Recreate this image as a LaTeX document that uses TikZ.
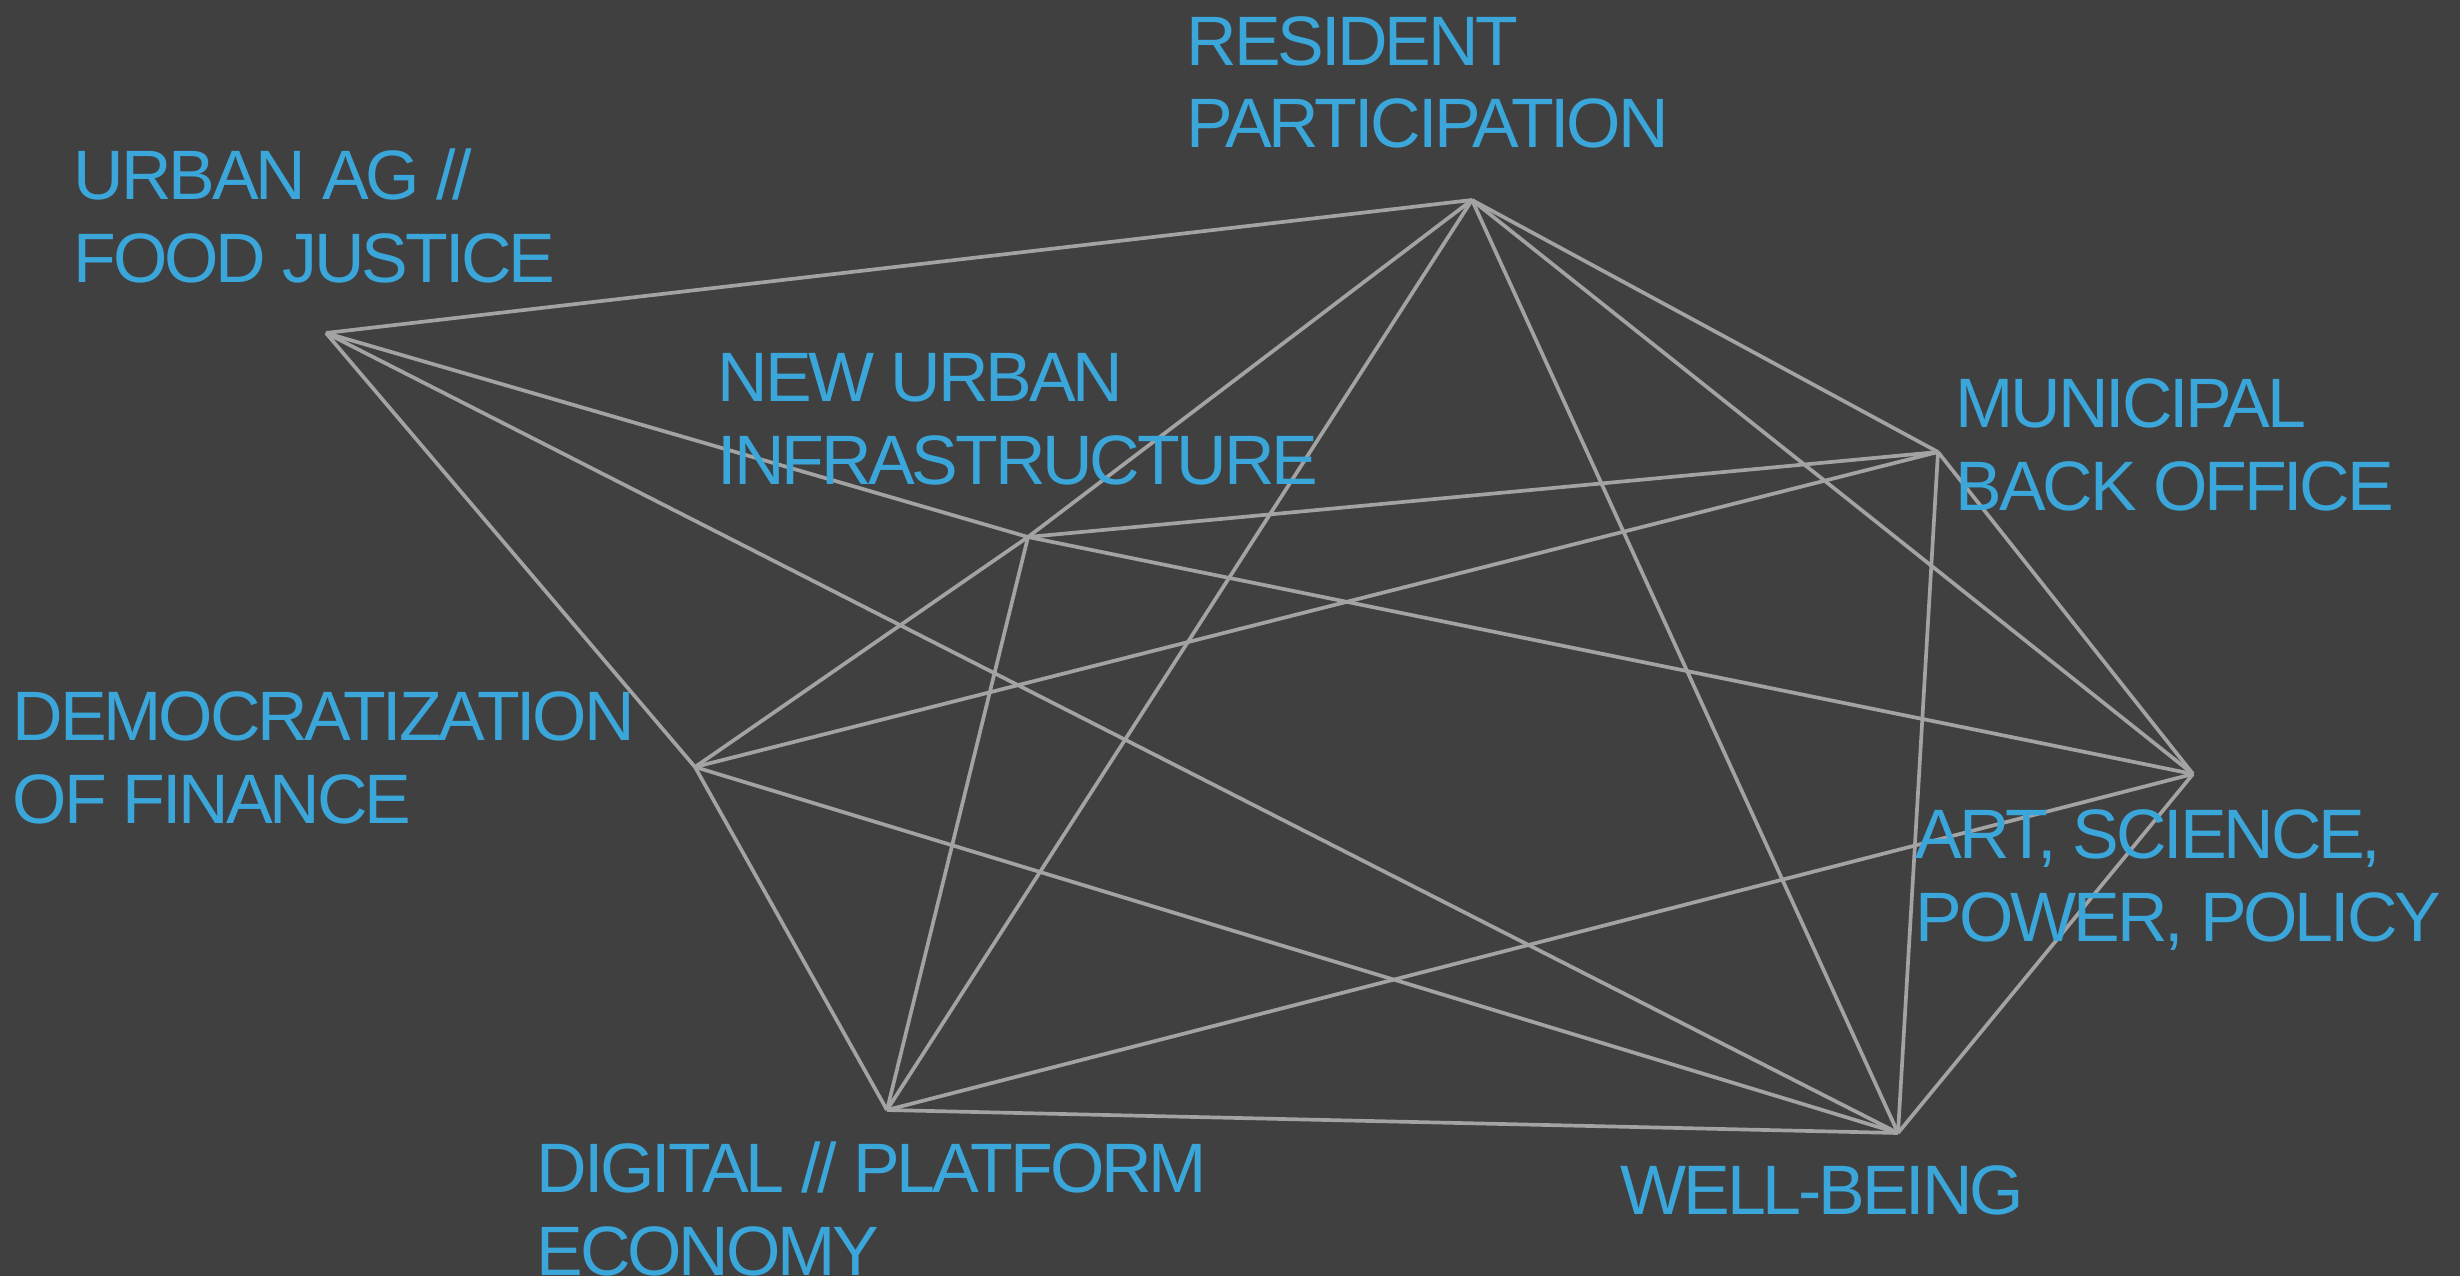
\documentclass[tikz,border=0pt]{standalone}
\usepackage{fontspec}
\setmainfont{Liberation Sans}[LetterSpace=-4.5]
\definecolor{bgray}{HTML}{404040}
\definecolor{lblue}{HTML}{3AA6DA}
\definecolor{lgray}{HTML}{A3A3A3}

\begin{document}
\begin{tikzpicture}[x=0.01cm,y=-0.01cm,
  lbl/.style={anchor=base west,inner sep=0pt,align=left,text=lblue,
    font=\fontsize{19.9}{23.6}\selectfont},
  link/.style={draw=lgray,line width=1.05pt}]
\fill[bgray] (0,0) rectangle (2460,1276);
\useasboundingbox (0,0) rectangle (2460,1276);

% meeting points
\coordinate (ua) at (326,333);
\coordinate (rp) at (1472,200);
\coordinate (mb) at (1938,452);
\coordinate (nui) at (1028,537);
\coordinate (df) at (695,767);
\coordinate (ar) at (2193,774);
\coordinate (dg) at (887,1110);
\coordinate (wb) at (1898,1133);

% links
\foreach \a/\b in {ua/rp,ua/nui,ua/df,ua/wb,rp/nui,rp/dg,rp/wb,rp/ar,rp/mb,
  mb/nui,mb/df,mb/wb,mb/ar,nui/ar,nui/df,nui/dg,df/dg,df/wb,ar/dg,ar/wb,dg/wb}
  \draw[link] (\a) -- (\b);

% labels (base = last line)
\node[lbl] (rpl) at (1186,148) {RESIDENT\\PARTICIPATION};
\node[lbl] (ual) at (73,282) {URBAN AG //\\FOOD JUSTICE};
\node[lbl] (nuil) at (717,484) {NEW URBAN\\INFRASTRUCTURE};
\node[lbl] (mbl) at (1955,510) {MUNICIPAL\\BACK OFFICE};
\node[lbl] (dfl) at (12,823) {DEMOCRATIZATION\\OF FINANCE};
\node[lbl] (arl) at (1915,941) {ART, SCIENCE,\\POWER, POLICY};
\node[lbl] (dgl) at (536,1275) {DIGITAL // PLATFORM\\ECONOMY};
\node[lbl] (wbl) at (1620,1214) {WELL-BEING};
\end{tikzpicture}
\end{document}
